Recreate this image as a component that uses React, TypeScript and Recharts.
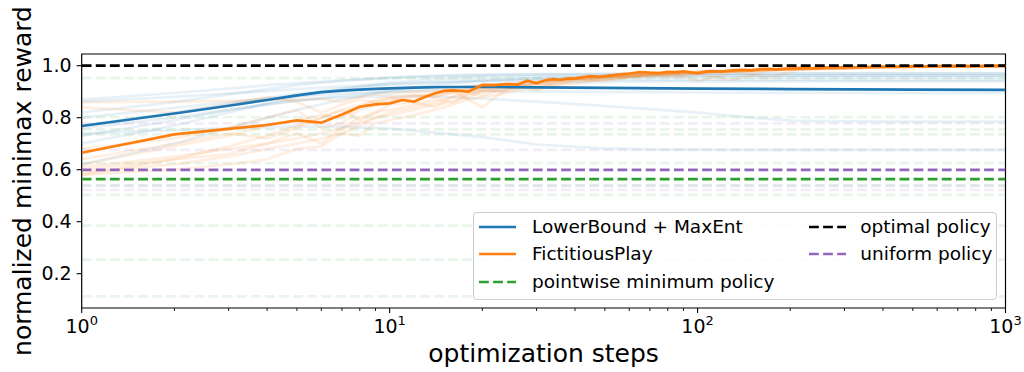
import { LineChart, Line, XAxis, YAxis, ReferenceArea, Legend } from 'recharts'

const FONT = '"DejaVu Sans", sans-serif'
const BLUE = '#1f77b4'
const ORANGE = '#ff7f0e'
const GREEN = '#2ca02c'
const PURPLE = '#9467bd'
const DASH = '9.8 4.3'

// mean curves
const lbSteps = [1, 2, 3, 4, 5, 6, 7, 8, 9, 10, 12, 15, 20, 30, 50, 100, 200, 500, 1000]
const lbMean = [0.768, 0.816, 0.846, 0.868, 0.886, 0.898, 0.904, 0.908, 0.911, 0.913, 0.916, 0.918, 0.918, 0.917, 0.915, 0.912, 0.91, 0.908, 0.907]

const fpSteps = [
  1, 2, 3, 4, 5, 6, 7, 8, 9, 10, 11, 12, 13, 14, 15, 16, 17, 18, 19, 20,
  22, 24, 26, 28, 30, 32, 34, 36, 38, 40, 42, 45, 48, 50, 55, 60, 65, 70, 75, 80,
  85, 90, 95, 100, 105, 110, 120, 130, 140, 150, 160, 170, 180, 200, 220, 240, 260, 280, 300, 330,
  360, 400, 450, 500, 550, 600, 700, 800, 900, 1000,
]
const fpMean = [
  0.665, 0.736, 0.757, 0.772, 0.79, 0.781, 0.812, 0.842, 0.851, 0.855, 0.868, 0.862, 0.88, 0.893, 0.903, 0.905, 0.903, 0.9, 0.913, 0.926,
  0.925, 0.929, 0.927, 0.942, 0.932, 0.944, 0.948, 0.946, 0.951, 0.95, 0.955, 0.96, 0.957, 0.96, 0.966, 0.97, 0.975, 0.973, 0.972, 0.976,
  0.975, 0.978, 0.974, 0.97, 0.976, 0.979, 0.977, 0.982, 0.984, 0.982, 0.987, 0.988, 0.986, 0.99, 0.992, 0.99, 0.994, 0.993, 0.995, 0.994,
  0.996, 0.997, 0.996, 0.998, 0.997, 0.998, 0.999, 0.998, 0.999, 0.999,
]

// individual runs (drawn faintly)
const lbRunSteps = [1, 2, 3, 4, 5, 7, 10, 15, 20, 30, 50, 70, 100, 150, 200, 300, 500, 700, 1000]
const lbRuns = [
  [0.87, 0.895, 0.912, 0.925, 0.933, 0.943, 0.952, 0.96, 0.963, 0.966, 0.968, 0.969, 0.97, 0.97, 0.971, 0.971, 0.971, 0.971, 0.971],
  [0.862, 0.88, 0.893, 0.902, 0.91, 0.92, 0.93, 0.94, 0.945, 0.95, 0.953, 0.954, 0.955, 0.955, 0.955, 0.955, 0.955, 0.955, 0.955],
  [0.82, 0.86, 0.89, 0.91, 0.925, 0.942, 0.955, 0.963, 0.966, 0.968, 0.969, 0.97, 0.97, 0.97, 0.97, 0.97, 0.97, 0.97, 0.97],
  [0.8, 0.838, 0.86, 0.874, 0.883, 0.893, 0.899, 0.902, 0.902, 0.901, 0.899, 0.898, 0.897, 0.896, 0.896, 0.895, 0.895, 0.895, 0.895],
  [0.77, 0.82, 0.852, 0.875, 0.892, 0.912, 0.926, 0.936, 0.94, 0.943, 0.945, 0.945, 0.945, 0.945, 0.945, 0.945, 0.945, 0.945, 0.945],
  [0.76, 0.8, 0.83, 0.85, 0.866, 0.885, 0.9, 0.915, 0.925, 0.933, 0.938, 0.94, 0.94, 0.94, 0.94, 0.94, 0.94, 0.94, 0.94],
  [0.74, 0.752, 0.76, 0.764, 0.766, 0.766, 0.758, 0.74, 0.725, 0.697, 0.682, 0.678, 0.677, 0.676, 0.676, 0.676, 0.676, 0.676, 0.676],
  [0.73, 0.79, 0.83, 0.852, 0.866, 0.878, 0.884, 0.879, 0.873, 0.862, 0.845, 0.833, 0.82, 0.8, 0.789, 0.786, 0.785, 0.785, 0.785],
  [0.7, 0.77, 0.82, 0.855, 0.88, 0.91, 0.935, 0.95, 0.956, 0.96, 0.962, 0.963, 0.963, 0.963, 0.963, 0.963, 0.963, 0.963, 0.963],
  [0.62, 0.7, 0.76, 0.8, 0.83, 0.87, 0.905, 0.93, 0.942, 0.952, 0.958, 0.96, 0.962, 0.963, 0.963, 0.963, 0.963, 0.963, 0.963],
]

const fpRunSteps = [1, 2, 3, 4, 5, 6, 7, 8, 9, 10, 12, 14, 16, 18, 20, 23, 26, 30, 35, 40, 50, 60, 70, 85, 100, 130, 170, 220, 300, 400, 600, 1000]
const fpRuns = [
  [0.86, 0.862, 0.865, 0.868, 0.87, 0.872, 0.86, 0.88, 0.89, 0.893, 0.9, 0.905, 0.912, 0.92, 0.925, 0.93, 0.935, 0.94, 0.945, 0.955, 0.96, 0.965, 0.97, 0.975, 0.978, 0.982, 0.986, 0.99, 0.993, 0.995, 0.997, 0.998],
  [0.84, 0.82, 0.85, 0.88, 0.86, 0.82, 0.85, 0.87, 0.86, 0.875, 0.89, 0.88, 0.9, 0.91, 0.905, 0.92, 0.93, 0.915, 0.94, 0.95, 0.945, 0.96, 0.965, 0.958, 0.97, 0.978, 0.955, 0.988, 0.992, 0.995, 0.997, 0.999],
  [0.68, 0.72, 0.76, 0.8, 0.83, 0.76, 0.78, 0.83, 0.85, 0.86, 0.88, 0.895, 0.9, 0.91, 0.915, 0.925, 0.91, 0.935, 0.945, 0.95, 0.955, 0.965, 0.97, 0.972, 0.975, 0.98, 0.984, 0.988, 0.992, 0.995, 0.997, 0.999],
  [0.64, 0.7, 0.74, 0.72, 0.76, 0.8, 0.83, 0.79, 0.82, 0.85, 0.86, 0.84, 0.88, 0.9, 0.885, 0.91, 0.92, 0.93, 0.925, 0.945, 0.955, 0.96, 0.962, 0.97, 0.972, 0.978, 0.982, 0.988, 0.99, 0.994, 0.996, 0.998],
  [0.62, 0.69, 0.73, 0.77, 0.79, 0.81, 0.8, 0.84, 0.87, 0.88, 0.86, 0.89, 0.905, 0.87, 0.84, 0.895, 0.92, 0.905, 0.935, 0.945, 0.94, 0.955, 0.965, 0.968, 0.94, 0.975, 0.983, 0.987, 0.991, 0.994, 0.996, 0.998],
  [0.61, 0.65, 0.68, 0.7, 0.72, 0.74, 0.76, 0.78, 0.8, 0.81, 0.83, 0.85, 0.86, 0.88, 0.9, 0.905, 0.915, 0.93, 0.94, 0.948, 0.958, 0.962, 0.968, 0.972, 0.975, 0.98, 0.985, 0.988, 0.991, 0.994, 0.996, 0.998],
  [0.6, 0.64, 0.66, 0.7, 0.74, 0.7, 0.76, 0.8, 0.82, 0.83, 0.85, 0.87, 0.86, 0.89, 0.91, 0.9, 0.925, 0.91, 0.92, 0.93, 0.95, 0.955, 0.96, 0.965, 0.97, 0.945, 0.982, 0.986, 0.99, 0.993, 0.996, 0.998],
  [0.59, 0.62, 0.65, 0.68, 0.7, 0.72, 0.74, 0.77, 0.8, 0.82, 0.84, 0.86, 0.88, 0.89, 0.9, 0.915, 0.925, 0.935, 0.942, 0.95, 0.956, 0.962, 0.968, 0.972, 0.974, 0.98, 0.985, 0.989, 0.992, 0.995, 0.997, 0.999],
  [0.58, 0.64, 0.69, 0.73, 0.77, 0.8, 0.83, 0.85, 0.86, 0.87, 0.885, 0.88, 0.895, 0.905, 0.915, 0.92, 0.93, 0.938, 0.945, 0.952, 0.958, 0.96, 0.966, 0.97, 0.975, 0.978, 0.984, 0.988, 0.991, 0.994, 0.996, 0.998],
  [0.58, 0.6, 0.62, 0.64, 0.68, 0.69, 0.74, 0.73, 0.78, 0.79, 0.81, 0.83, 0.85, 0.87, 0.88, 0.89, 0.905, 0.92, 0.93, 0.94, 0.95, 0.958, 0.964, 0.97, 0.974, 0.978, 0.984, 0.988, 0.991, 0.994, 0.996, 0.998],
]

// baselines
const optimalValue = 1.0
const uniformValue = 0.599
const minPolicyValue = 0.564
const minPolicyRuns = [0.952, 0.802, 0.755, 0.736, 0.625, 0.54, 0.503, 0.385, 0.254, 0.113]
const uniformRuns = [0.778, 0.676, 0.538, 0.522]

const yTicks = [0.2, 0.4, 0.6, 0.8, 1.0]
const xMajor = [1, 10, 100, 1000]
const xMinor = [1, 10, 100].flatMap((d) => [2, 3, 4, 5, 6, 7, 8, 9].map((m) => m * d))

const legendItems = [
  { label: 'LowerBound + MaxEnt', color: BLUE, dashed: false },
  { label: 'FictitiousPlay', color: ORANGE, dashed: false },
  { label: 'pointwise minimum policy', color: GREEN, dashed: true },
  { label: 'optimal policy', color: '#000', dashed: true },
  { label: 'uniform policy', color: PURPLE, dashed: true },
]

const pts = (steps: number[], vals: number[]) => steps.map((s, i) => ({ step: s, v: vals[i] }))
const hline = (v: number) => pts([1, 1000], [v, v])

function XTick(props: any) {
  const { x, y, payload } = props
  const major = xMajor.includes(payload.value)
  return (
    <g>
      <line x1={x} x2={x} y1={y} y2={y + (major ? 5 : 3)} stroke="#000" strokeWidth={major ? 1.1 : 0.9} />
      {major && (
        <text x={x} y={y + 25} textAnchor="middle" fontSize={19} fontFamily={FONT} fill="#000">
          <tspan>10</tspan>
          <tspan dy={-8} fontSize={13}>{Math.round(Math.log10(payload.value))}</tspan>
        </text>
      )}
    </g>
  )
}

function LegendBox() {
  const colX = [[5.5, 58.5], [335.7, 386.8]]
  const rowY = [14.3, 41.6, 69.3]
  return (
    <div
      style={{
        position: 'relative', width: 524, height: 88, boxSizing: 'border-box',
        border: '1px solid #cccccc', borderRadius: 4, background: 'rgba(255,255,255,0.8)',
        fontFamily: FONT, fontSize: 18.5, color: '#000',
      }}
    >
      {legendItems.map((it, i) => {
        const col = i < 3 ? 0 : 1
        const row = i < 3 ? i : i - 3
        const cy = rowY[row]
        return (
          <div key={it.label}>
            <svg style={{ position: 'absolute', left: colX[col][0], top: cy - 5 }} width={37} height={10}>
              <line x1={0} x2={37} y1={5} y2={5} stroke={it.color} strokeWidth={2.7} strokeDasharray={it.dashed ? DASH : undefined} />
            </svg>
            <div style={{ position: 'absolute', left: colX[col][1], top: cy - 12, height: 24, lineHeight: '24px', whiteSpace: 'nowrap' }}>
              {it.label}
            </div>
          </div>
        )
      })}
    </div>
  )
}

export default function App() {
  return (
    <div style={{ position: 'absolute', left: 0, top: 0, background: '#fff' }}>
      <LineChart width={1024} height={372} margin={{ top: 54, right: 18.5, left: 0, bottom: 0 }}>
        <XAxis
          dataKey="step"
          type="number"
          scale="log"
          domain={[1, 1000]}
          allowDataOverflow
          ticks={[...xMajor, ...xMinor]}
          interval={0}
          tick={<XTick />}
          tickLine={false}
          axisLine={false}
          tickSize={0}
          tickMargin={0}
          height={64}
          label={{
            content: ({ viewBox }: any) => (
              <text x={viewBox.x + viewBox.width / 2} y={362} textAnchor="middle" fontSize={25} fontFamily={FONT} fill="#000">
                optimization steps
              </text>
            ),
          }}
        />
        <YAxis
          type="number"
          domain={[0.068, 1.045]}
          allowDataOverflow
          ticks={yTicks}
          tickFormatter={(v: number) => v.toFixed(1)}
          tick={{ fill: '#000', fontSize: 19, fontFamily: FONT }}
          tickLine={{ stroke: '#000', strokeWidth: 1.1 }}
          axisLine={false}
          tickSize={5}
          tickMargin={5}
          width={81.7}
          label={{
            content: ({ viewBox }: any) => {
              const cy = viewBox.y + viewBox.height / 2
              return (
                <text x={31} y={cy} transform={`rotate(-90 31 ${cy})`} textAnchor="middle" fontSize={25} fontFamily={FONT} fill="#000">
                  normalized minimax reward
                </text>
              )
            },
          }}
        />

        {minPolicyRuns.map((v, i) => (
          <Line key={'gm' + i} data={hline(v)} dataKey="v" stroke={GREEN} strokeOpacity={0.1} strokeWidth={2.7} strokeDasharray={DASH} dot={false} isAnimationActive={false} />
        ))}
        {uniformRuns.map((v, i) => (
          <Line key={'um' + i} data={hline(v)} dataKey="v" stroke={PURPLE} strokeOpacity={0.12} strokeWidth={2.7} strokeDasharray={DASH} dot={false} isAnimationActive={false} />
        ))}
        {lbRuns.map((r, i) => (
          <Line key={'lb' + i} data={pts(lbRunSteps, r)} dataKey="v" stroke={BLUE} strokeOpacity={0.1} strokeWidth={2.7} dot={false} isAnimationActive={false} />
        ))}
        {fpRuns.map((r, i) => (
          <Line key={'fp' + i} data={pts(fpRunSteps, r)} dataKey="v" stroke={ORANGE} strokeOpacity={0.12} strokeWidth={2.7} dot={false} isAnimationActive={false} />
        ))}

        <Line data={hline(minPolicyValue)} dataKey="v" stroke={GREEN} strokeWidth={2.7} strokeDasharray={DASH} dot={false} isAnimationActive={false} />
        <Line data={hline(uniformValue)} dataKey="v" stroke={PURPLE} strokeWidth={2.7} strokeDasharray={DASH} dot={false} isAnimationActive={false} />
        <Line data={pts(lbSteps, lbMean)} dataKey="v" stroke={BLUE} strokeWidth={2.7} dot={false} isAnimationActive={false} />
        <Line data={pts(fpSteps, fpMean)} dataKey="v" stroke={ORANGE} strokeWidth={2.7} dot={false} isAnimationActive={false} />
        <Line data={hline(optimalValue)} dataKey="v" stroke="#000" strokeWidth={2.7} strokeDasharray={DASH} dot={false} isAnimationActive={false} />

        <ReferenceArea x1={1} x2={1000} y1={0.068} y2={1.045} fill="none" stroke="#000" strokeWidth={1.2} ifOverflow="visible" />

        <Legend
          layout="vertical"
          align="center"
          verticalAlign="middle"
          wrapperStyle={{ left: 472.5, top: 211.7, width: 524, height: 88, margin: 0 }}
          content={() => <LegendBox />}
        />
      </LineChart>
    </div>
  )
}
